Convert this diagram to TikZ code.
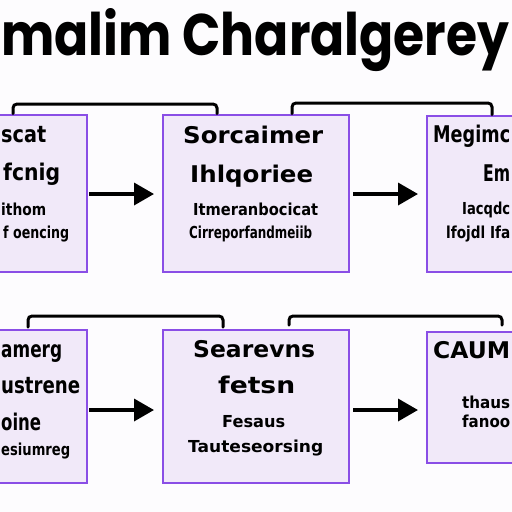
\documentclass[tikz,border=0pt]{standalone}
\usepackage{fontspec}
\usepackage{graphicx}
\setmainfont{DejaVu Sans}
\newfontfamily\titlefont{Poppins}
\usetikzlibrary{arrows.meta}
\definecolor{boxfill}{HTML}{F1E9F9}
\definecolor{boxline}{HTML}{8A4EE6}
\definecolor{bgcol}{HTML}{FDFCFE}
\newcommand\BigT[2]{\resizebox{#1pt}{\height}{\fontsize{23}{23}\selectfont\bfseries #2}}
\newcommand\SmT[2]{\resizebox{#1pt}{\height}{\fontsize{16.5}{16.5}\selectfont\bfseries #2}}
\tikzset{
  stepbox/.style={draw=boxline, line width=2.6pt, fill=boxfill, inner sep=0pt},
  txt/.style={anchor=base west, inner sep=0pt, text=black},
  flowarrow/.style={line width=3.6pt, -{Triangle[length=20pt,width=22pt]}},
  bracket/.style={line width=3pt, rounded corners=4pt, line cap=round},
}
\begin{document}
\begin{tikzpicture}[x=1pt,y=-1pt]
\useasboundingbox (0,0) rectangle (512,512);
\clip (0,0) rectangle (512,512);
\fill[bgcol] (0,0) rectangle (512,512);
% title
\node[anchor=base west, inner sep=0pt] (title) at (1,55) {\resizebox{508pt}{47pt}{\titlefont\bfseries malim Charalgerey}};
% boxes
\node[stepbox, minimum width=97pt, minimum height=157pt] (b1) at (38.5,193.5) {};
\node[stepbox, minimum width=186pt, minimum height=157pt] (b2) at (256,193.5) {};
\node[stepbox, minimum width=103pt, minimum height=156pt] (b3) at (478.5,194) {};
\node[stepbox, minimum width=97pt, minimum height=153pt] (b4) at (38.5,406.5) {};
\node[stepbox, minimum width=186pt, minimum height=153pt] (b5) at (256,406.5) {};
\node[stepbox, minimum width=103pt, minimum height=131pt] (b6) at (478.5,397.5) {};
% arrows
\coordinate (a1s) at (89,194); \coordinate (a1e) at (154,194);
\coordinate (a2s) at (353,194); \coordinate (a2e) at (418,194);
\coordinate (a3s) at (89,410); \coordinate (a3e) at (154,410);
\coordinate (a4s) at (353,410); \coordinate (a4e) at (418,410);
\draw[flowarrow] (a1s) -- (a1e);
\draw[flowarrow] (a2s) -- (a2e);
\draw[flowarrow] (a3s) -- (a3e);
\draw[flowarrow] (a4s) -- (a4e);
% brackets
\draw[bracket] (b1.north -| 13,0) -- (13,104) -- (217,104) -- (b2.north -| 217,0);
\draw[bracket] (b2.north -| 292,0) -- (292,103) -- (492,103) -- (b3.north -| 492,0);
\draw[bracket] (28,327) -- (28,316) -- (223,316) -- (223,327);
\draw[bracket] (289,325) -- (289,316) -- (502,316) -- (502,325);
% box 1 text
\node[txt] (t11) at (1,142) {\BigT{45}{scat}};
\node[txt] (t12) at (3,180) {\BigT{57}{fcnig}};
\node[txt] (t13) at (1,215) {\SmT{45}{ithom}};
\node[txt] (t14) at (3,238) {\SmT{66}{f oencing}};
% box 2 text
\node[txt] (t21) at (183,143) {\BigT{140}{Sorcaimer}};
\node[txt] (t22) at (190,182) {\BigT{123}{Ihlqoriee}};
\node[txt] (t23) at (193,215) {\SmT{125}{Itmeranbocicat}};
\node[txt] (t24) at (189,238) {\SmT{123}{Cirreporfandmeiib}};
% box 3 text
\node[txt] (t31) at (433,142) {\BigT{77}{Megimc}};
\node[txt] (t32) at (483,181) {\BigT{27}{Em}};
\node[txt] (t33) at (462,214) {\SmT{48}{Iacqdc}};
\node[txt] (t34) at (446,238) {\SmT{64}{lfojdl Ifa}};
% box 4 text
\node[txt] (t41) at (1,357) {\BigT{61}{amerg}};
\node[txt] (t42) at (1,393) {\BigT{79}{ustrene}};
\node[txt] (t43) at (1,430) {\BigT{40}{oine}};
\node[txt] (t44) at (1,455) {\SmT{69}{esiumreg}};
% box 5 text
\node[txt] (t51) at (193,357) {\BigT{122}{Searevns}};
\node[txt] (t52) at (218,393) {\BigT{77}{fetsn}};
\node[txt] (t53) at (222,427) {\SmT{63}{Fesaus}};
\node[txt] (t54) at (188,452) {\SmT{135}{Tauteseorsing}};
% box 6 text
\node[txt] (t61) at (433,358) {\BigT{77}{CAUM}};
\node[txt] (t62) at (462,408) {\SmT{48}{thaus}};
\node[txt] (t63) at (462,427) {\SmT{48}{fanoo}};
\end{tikzpicture}
\end{document}
